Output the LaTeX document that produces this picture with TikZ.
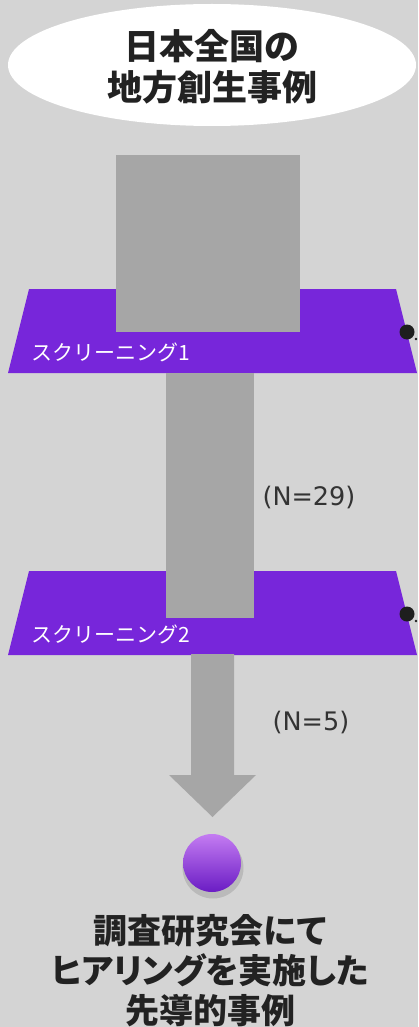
\documentclass[tikz,border=0pt]{standalone}
\usepackage{fontspec}
\newfontfamily\jpfont{Noto Sans CJK JP}
\newfontfamily\jpprop{Noto Sans CJK JP}[RawFeature=+palt]
\newfontfamily\numfont{DejaVu Sans}
\usetikzlibrary{arrows.meta, positioning, calc}
\definecolor{bggray}{HTML}{D4D4D4}
\definecolor{flowgray}{HTML}{A6A6A6}
\definecolor{screenpurple}{HTML}{7726DA}
\definecolor{ballhigh}{HTML}{C47CF2}
\definecolor{balllow}{HTML}{6A1CC4}
\definecolor{textdark}{HTML}{222222}
\definecolor{pinblack}{HTML}{1E1E1E}

\begin{document}
\begin{tikzpicture}[x=1pt, y=-1pt]
  \useasboundingbox (0,0) rectangle (418,1027);
  \fill[bggray] (0,0) rectangle (418,1027);
  % source
  \fill[white] (212,65) ellipse (204 and 61);
  \node[font=\jpfont\bfseries\fontsize{35}{41}\selectfont, text=textdark, align=center] (origin) at (212,67) {日本全国の\\地方創生事例};
  % screening bands
  \foreach \y/\k in {289/1, 571/2} {
    \fill[screenpurple] (29,\y) -- (396,\y) -- (417,\y+84) -- (8,\y+84) -- cycle;
    \fill[pinblack] (407,\y+43) circle (7.5);
    \fill[pinblack] (416,\y+50) circle (1.4);
    \node[anchor=west, inner sep=0pt, text=white, font=\jpfont\fontsize{21}{24}\selectfont] (screen\k) at (31,\y+63) {スクリーニング\k};
  }
  % funnel
  \fill[flowgray] (116,155) rectangle (300,332);
  \fill[flowgray] (166,373) rectangle (254,618);
  \fill[flowgray] (191,654) -- (234,654) -- (234,775) -- (256,775) -- (212.5,817) -- (169,775) -- (191,775) -- cycle;
  \node[font=\numfont\fontsize{25.5}{28}\selectfont, text=black!80] (n29) at (309,498) {(N=29)};
  \node[font=\numfont\fontsize{25.5}{28}\selectfont, text=black!80] (n5) at (311,722) {(N=5)};
  % result
  \fill[black, opacity=0.12] (213,868) circle (30.5);
  \shade[top color=ballhigh, middle color=screenpurple, bottom color=balllow] (212,863) circle (29);
  \node[font=\jpprop\bfseries\fontsize{34}{40}\selectfont, text=textdark, align=center] (result) at (210,971) {調査研究会にて\\ヒアリングを実施した\\先導的事例};
\end{tikzpicture}
\end{document}
